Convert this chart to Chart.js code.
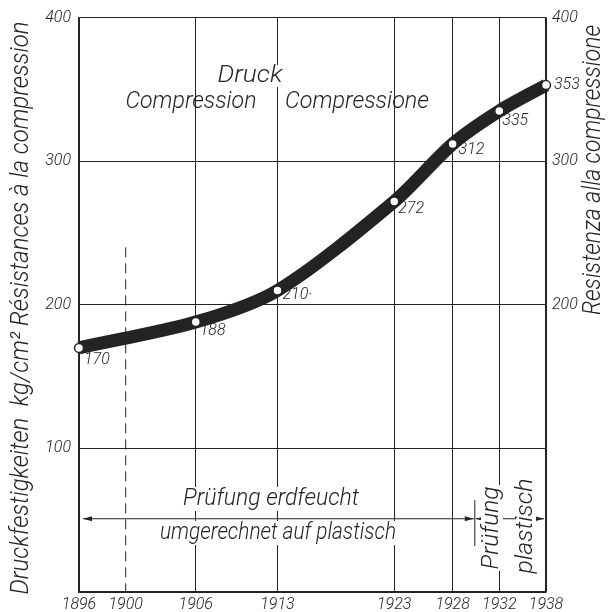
<!DOCTYPE html>
<html><head><meta charset="utf-8">
<script src="https://cdn.jsdelivr.net/npm/chart.js@4.4.0/dist/chart.umd.min.js"></script>
<style>html,body{margin:0;padding:0;background:#fff;} #wrap{width:608px;height:612px;}</style>
</head><body><div id="wrap"><canvas id="c" width="608" height="612"></canvas></div>
<script>
// ---- data ----
const years = [1896, 1906, 1913, 1923, 1928, 1932, 1936];
const strength = [170, 188, 210, 272, 312, 335, 353];
const pointLabels = ['170', '188', '210·', '272', '312', '335', '353'];
const xTickValues = [1896, 1900, 1906, 1913, 1923, 1928, 1932, 1936];
const xTickLabels = ['1896', '1900', '1906', '1913', '1923', '1928', '1932', '1938'];
const yTicksLeft = [0, 100, 200, 300, 400];
const yTicksRight = [200, 300, 400];

const INK = '#232323';
const FONT = 'Roboto';
const tickFont = {family: FONT, style: 'italic', weight: 300, size: 16};

// label offsets (px) relative to the point
const labelOffsets = [[5, 12], [4, 9], [5, 5], [4, 8], [6, 6], [3, 10], [8, 0]];

function fitText(ctx, str, cx, cy, w, size, rot) {
  ctx.save();
  ctx.font = `italic 300 ${size}px ${FONT}`;
  const m = ctx.measureText(str).width;
  ctx.translate(cx, cy);
  if (rot) ctx.rotate(rot);
  ctx.scale(w / m, 1);
  ctx.fillStyle = INK; ctx.textAlign = 'center'; ctx.textBaseline = 'middle';
  ctx.fillText(str, 0, 0);
  ctx.restore();
}
function whiteRect(ctx, cx, cy, w, h, rot) {
  ctx.save();
  ctx.translate(cx, cy);
  if (rot) ctx.rotate(rot);
  ctx.fillStyle = '#fff';
  ctx.fillRect(-w / 2, -h / 2, w, h);
  ctx.restore();
}
function arrowHead(ctx, tipX, y, dir) {
  ctx.beginPath();
  ctx.moveTo(tipX, y);
  ctx.lineTo(tipX - dir * 9, y - 2.5);
  ctx.lineTo(tipX - dir * 9, y + 2.5);
  ctx.closePath();
  ctx.fill();
}

const annot = {
  id: 'annot',
  afterDatasetsDraw(chart) {
    const ctx = chart.ctx;
    const xs = chart.scales.x, ys = chart.scales.y;
    const X = v => xs.getPixelForValue(v), Y = v => ys.getPixelForValue(v);
    const R = -Math.PI / 2;

    // gaps in the grid behind horizontal lettering
    whiteRect(ctx, 250, 76, 66, 22);
    whiteRect(ctx, 271, 499, 180, 24);
    whiteRect(ctx, 278, 533, 240, 24);

    ctx.strokeStyle = INK; ctx.fillStyle = INK; ctx.lineWidth = 1;
    // dashed 1900 line
    ctx.save();
    ctx.setLineDash([10, 6]);
    ctx.beginPath();
    ctx.moveTo(X(1900), Y(240)); ctx.lineTo(X(1900), Y(0));
    ctx.stroke();
    ctx.restore();

    // arrows
    const ay = Y(51);
    const mark = 1929.9;
    ctx.beginPath();
    ctx.moveTo(X(1896) + 4, ay); ctx.lineTo(X(mark) - 1, ay);
    ctx.moveTo(X(mark) + 1, ay); ctx.lineTo(X(1936) - 2, ay);
    ctx.moveTo(X(mark), Y(64)); ctx.lineTo(X(mark), Y(32));
    ctx.stroke();
    arrowHead(ctx, X(1896) + 4, ay, -1);
    arrowHead(ctx, X(mark) - 1, ay, 1);
    arrowHead(ctx, X(mark) + 1, ay, -1);
    arrowHead(ctx, X(1936) - 2, ay, 1);

    // gaps behind rotated lettering
    whiteRect(ctx, 492, 528, 86, 22, R);
    whiteRect(ctx, 526, 526, 98, 20, R);

    // lettering
    fitText(ctx, 'Druck', 250, 76, 65, 24);
    fitText(ctx, 'Compression', 191, 102, 131, 24);
    fitText(ctx, 'Compressione', 357, 102, 144, 24);
    fitText(ctx, 'Prüfung erdfeucht', 271, 499, 176, 24);
    fitText(ctx, 'umgerechnet auf plastisch', 278, 533, 236, 24);
    fitText(ctx, 'Prüfung', 492, 528, 83, 23, R);
    fitText(ctx, 'plastisch', 526, 526, 95, 23, R);
    fitText(ctx, 'Druckfestigkeiten  kg/cm² Résistances à la compression', 22, 308, 573, 25, R);
    fitText(ctx, 'Resistenza alla compressione', 594, 170, 290, 25, R);

    // point labels
    ctx.save();
    ctx.font = `italic 300 16px ${FONT}`;
    ctx.fillStyle = INK; ctx.textAlign = 'left'; ctx.textBaseline = 'middle';
    years.forEach((yr, i) => {
      ctx.fillText(pointLabels[i], X(yr) + labelOffsets[i][0], Y(strength[i]) + labelOffsets[i][1]);
    });
    ctx.restore();
  }
};

new Chart(document.getElementById('c').getContext('2d'), {
  type: 'line',
  data: {
    datasets: [{
      data: years.map((y, i) => ({x: y, y: strength[i]})),
      borderColor: INK, borderWidth: 13,
      tension: 0.3,
      pointRadius: 4.5, pointBackgroundColor: '#fff',
      pointBorderColor: INK, pointBorderWidth: 1.5,
      clip: false, yAxisID: 'y'
    }]
  },
  options: {
    responsive: false, animation: false, devicePixelRatio: 1,
    layout: {padding: {top: 17, left: 0, right: 0, bottom: 0}},
    plugins: {legend: {display: false}, tooltip: {enabled: false}},
    scales: {
      x: {
        type: 'linear', min: 1896, max: 1936,
        afterBuildTicks: s => { s.ticks = xTickValues.map(v => ({value: v})); },
        ticks: {callback: v => xTickLabels[xTickValues.indexOf(v)], font: tickFont, color: INK, padding: 3, maxRotation: 0, autoSkip: false},
        grid: {color: c => (c.tick && c.tick.value === 1900) ? 'rgba(0,0,0,0)' : INK, lineWidth: 1, drawTicks: false},
        border: {color: INK, width: 1.3},
        afterFit: s => { s.height = 20; }
      },
      y: {
        position: 'left', min: 0, max: 400,
        afterBuildTicks: s => { s.ticks = yTicksLeft.map(v => ({value: v})); },
        ticks: {callback: v => v === 0 ? '' : String(v), font: tickFont, color: INK, padding: 8},
        grid: {color: INK, lineWidth: 1, drawTicks: false},
        border: {color: INK, width: 1.3},
        afterFit: s => { s.width = 79; }
      },
      y2: {
        position: 'right', min: 0, max: 400,
        afterBuildTicks: s => { s.ticks = yTicksRight.map(v => ({value: v})); },
        ticks: {font: tickFont, color: INK, padding: 6},
        grid: {color: 'rgba(0,0,0,0)', drawTicks: false},
        border: {color: INK, width: 1.3},
        afterFit: s => { s.width = 62; }
      }
    }
  },
  plugins: [annot]
});
</script>
</body></html>
